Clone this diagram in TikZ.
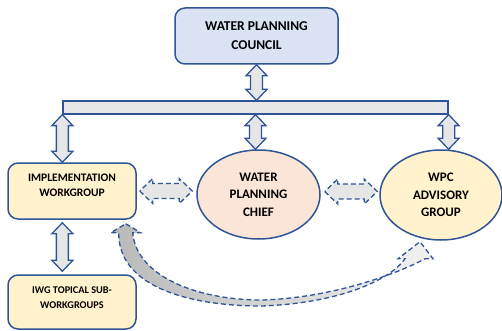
\documentclass[tikz,border=0pt]{standalone}
\usepackage{fontspec}
\setmainfont{Carlito}
\usetikzlibrary{shapes.geometric,calc}
\definecolor{wpblue}{HTML}{2F5597}
\definecolor{wplight}{HTML}{DAE3F3}
\definecolor{wpgray}{HTML}{E7E6E6}
\definecolor{wpyellow}{HTML}{FFF2CC}
\definecolor{wppeach}{HTML}{FBE5D6}
% block double arrow: style, from, to, head length, head half width, shaft half width
\newcommand{\dblarr}[6]{%
  \draw[#1] let \p1=#2, \p2=#3, \n1={veclen(\x2-\x1,\y2-\y1)}, \n2={atan2(\y2-\y1,\x2-\x1)} in
    [shift={(\p1)},rotate=\n2] (0,0) -- (#4,#5) -- (#4,#6) -- ({\n1-#4},#6) -- ({\n1-#4},#5)
    -- (\n1,0) -- ({\n1-#4},-#5) -- ({\n1-#4},-#6) -- (#4,-#6) -- (#4,-#5) -- cycle;}

\begin{document}
\begin{tikzpicture}[x=1pt,y=-1pt,
    box/.style={draw=wpblue,line width=1.5pt,rounded corners=10pt,fill=wpyellow},
    oval/.style={ellipse,draw=wpblue,line width=1.5pt,inner sep=0pt,align=center,
      font=\fontsize{13}{17.5}\selectfont\bfseries},
    lbl/.style={align=center,font=\fontsize{11.5}{15}\selectfont\bfseries},
    blockarr/.style={draw=wpblue,line width=1.3pt,fill=wpgray,line join=miter},
    dasharr/.style={blockarr,dash pattern=on 5pt off 3pt},
    curvearr/.style={draw=wpblue,line width=1.3pt,dash pattern=on 5pt off 3pt,
      left color=gray!55,right color=gray!10}]
  \useasboundingbox (0,0) rectangle (502,331);

  \node[box,fill=wplight,minimum width=163,minimum height=56,align=center,
    font=\fontsize{13.5}{19}\selectfont\bfseries] (council) at (256.5,36) {WATER PLANNING\\COUNCIL};
  \node[draw=wpblue,line width=1.3pt,fill=wpgray,minimum width=385,minimum height=13,
    inner sep=0pt] (bar) at (255.5,107.5) {};
  \node[box,minimum width=128,minimum height=56] (iwg) at (72,191) {};
  \node[lbl] (iwgtext) at ($(iwg)+(0,-5.5)$) {IMPLEMENTATION\\WORKGROUP};
  \node[box,minimum width=128,minimum height=54] (sub) at (72,302) {};
  \node[lbl,font=\fontsize{10.3}{15}\selectfont\bfseries] (subtext) at ($(sub)+(0,-4.5)$) {IWG TOPICAL SUB-\\WORKGROUPS};
  \node[oval,fill=wppeach,minimum width=123,minimum height=89] (chief) at (258.5,194.5) {WATER\\PLANNING\\CHIEF};
  \node[oval,fill=wpyellow,minimum width=122,minimum height=90] (wpc) at (441,195) {WPC\\ADVISORY\\GROUP};

  \dblarr{blockarr}{(council.south)}{(council.south |- bar.north)}{11}{10.5}{6}
  \foreach \a/\b in {bar.south west/iwg.north,bar.south/chief.north,bar.south east/wpc.north}
    \dblarr{blockarr}{(\a)}{(\a |- \b)}{11}{10.5}{6};
  \dblarr{blockarr}{($(bar.south west |- iwg.south)+(0,3)$)}{($(bar.south west |- sub.north)+(0,-3)$)}{11}{10.5}{6}
  \dblarr{dasharr}{($(iwg.east)+(3,0)$)}{($(iwg.east -| chief.west)+(-4,0)$)}{13}{12.5}{7.5}
  \dblarr{dasharr}{($(chief.east)+(4,-3)$)}{($(chief.east -| wpc.west)+(-2,-3)$)}{13}{12.5}{7.5}

  \coordinate (lt) at ($(iwg.south east)+(-11,4)$);
  \coordinate (rt) at ($(wpc.south)+(-21,1)$);
  \draw[curvearr] (lt) -- ++(15,9) -- ++(-8,0) .. controls (136,275) and (195,300) .. (262,300)
    .. controls (330,298) and (395,275) .. ($(rt)+(5,17)$) -- ++(8,0) -- (rt) -- ++(-22,17) -- ++(7,0)
    .. controls (390,280) and (340,303) .. (262,306) .. controls (185,306) and (118,285) .. ($(lt)+(-7,9)$)
    -- ++(-8,0) -- cycle;
\end{tikzpicture}
\end{document}
